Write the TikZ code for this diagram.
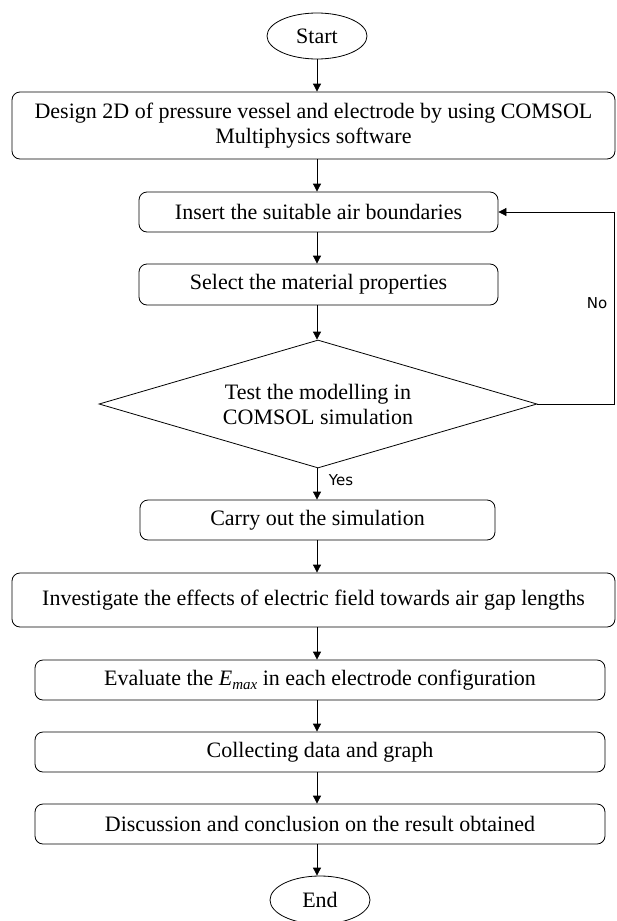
\documentclass[tikz,border=0pt]{standalone}
\usepackage{fontspec}
\setmainfont{Liberation Serif}
\newfontfamily\lblfont{DejaVu Sans}
\usetikzlibrary{shapes.geometric,arrows.meta}
\newcommand{\emaxsub}{\textit{E}\raisebox{-4pt}{\fontsize{15}{15}\selectfont\textit{max}}}
\begin{document}
\begin{tikzpicture}[x=1pt,y=-1pt,
  every node/.style={font=\fontsize{22}{25}\selectfont},
  box/.style={draw,rounded corners=8pt,line width=0.8pt,minimum height=40pt,inner sep=0pt,align=center},
  term/.style={draw,ellipse,line width=0.8pt,minimum width=100pt,minimum height=46pt,inner sep=0pt},
  dec/.style={draw,diamond,aspect=3.42,line width=0.8pt,minimum width=438pt,minimum height=128pt,inner sep=0pt,align=center},
  arr/.style={line width=0.8pt,-{Triangle[length=8pt,width=8pt]}},
  lbl/.style={font=\lblfont\fontsize{15}{17}\selectfont,inner sep=0pt}]
\useasboundingbox (0,0) rectangle (616,921);
\node[term] (start) at (317,36) {Start};
\node[box,minimum width=603pt,minimum height=67pt] (b1) at (313.5,125.5) {Design 2D of pressure vessel and electrode by using COMSOL\\Multiphysics software};
\node[box,minimum width=359pt] (b2) at (318.5,212) {Insert the suitable air boundaries};
\node[box,minimum width=359pt,minimum height=41pt] (b3) at (318.5,284.5) {Select the material properties};
\node[dec] (dia) at (318,404) {Test the modelling in\\COMSOL simulation};
\node[box,minimum width=355pt] (b4) at (317.5,520) {Carry out the simulation};
\node[box,minimum width=603pt,minimum height=54pt] (b5) at (313.5,600) {Investigate the effects of electric field towards air gap lengths};
\node[box,minimum width=570pt] (b6) at (320,680) {Evaluate the \emaxsub{} in each electrode configuration};
\node[box,minimum width=570pt] (b7) at (320,752) {Collecting data and graph};
\node[box,minimum width=570pt] (b8) at (320,824) {Discussion and conclusion on the result obtained};
\node[term,minimum height=48pt] (end) at (320,900) {End};
\coordinate (col) at (317,0);
\draw[arr] (start.south -| col) -- (b1.north -| col);
\draw[arr] (b1.south -| col) -- (b2.north -| col);
\draw[arr] (b2.south -| col) -- (b3.north -| col);
\draw[arr] (b3.south -| col) -- (dia.north -| col);
\draw[arr] (dia.south -| col) -- (b4.north -| col);
\draw[arr] (b4.south -| col) -- (b5.north -| col);
\draw[arr] (b5.south -| col) -- (b6.north -| col);
\draw[arr] (b6.south -| col) -- (b7.north -| col);
\draw[arr] (b7.south -| col) -- (b8.north -| col);
\draw[arr] (b8.south -| col) -- (end.north -| col);
\coordinate (loopc) at (614,404);
\draw[arr] (dia.east) -- (loopc) |- (b2.east);
\node[lbl] (no) at (597,303) {No};
\node[lbl] (yes) at (341,480) {Yes};
\end{tikzpicture}
\end{document}
